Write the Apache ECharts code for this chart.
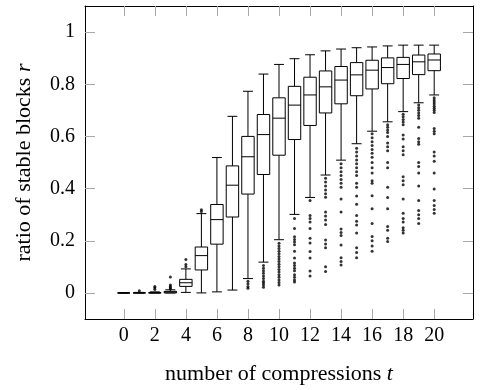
<!DOCTYPE html>
<html>
<head>
<meta charset="utf-8">
<script src="https://cdn.jsdelivr.net/npm/echarts@6/dist/echarts.min.js"></script>
<style>
html,body{margin:0;padding:0;background:#fff;}
#main{width:482px;height:390px;}
</style>
</head>
<body>
<div id="main"></div>
<script>
// number of compressions t
const tValues = [0,1,2,3,4,5,6,7,8,9,10,11,12,13,14,15,16,17,18,19,20];
// box plot statistics per t
const whiskerLow  = [0,0,0,0,0.002,0,0.004,0.011,0.055,0.118,0.204,0.301,0.366,0.452,0.509,0.572,0.620,0.656,0.695,0.729,0.759];
const quartile1   = [0,0,0,0,0.025,0.088,0.187,0.291,0.379,0.454,0.528,0.588,0.642,0.690,0.725,0.756,0.782,0.802,0.822,0.837,0.852];
const medians     = [0,0,0,0.003,0.039,0.143,0.281,0.413,0.522,0.607,0.670,0.720,0.759,0.790,0.816,0.836,0.854,0.864,0.876,0.886,0.893];
const quartile3   = [0,0,0.001,0.006,0.052,0.176,0.339,0.487,0.600,0.684,0.748,0.792,0.827,0.851,0.868,0.883,0.892,0.901,0.903,0.912,0.916];
const whiskerHigh = [0,0.002,0.004,0.012,0.092,0.304,0.519,0.677,0.773,0.839,0.876,0.898,0.913,0.928,0.935,0.940,0.943,0.947,0.950,0.950,0.950];
// outliers per t
const outliers = [
  [],
  [0.008],
  [0.013,0.02,0.025],
  [0.016,0.02,0.025,0.03,0.061],
  [0.1,0.109,0.128],
  [0.312,0.319],
  [],
  [],
  [0.045,0.035,0.025,0.018],
  [0.105,0.095,0.085,0.075,0.065,0.055,0.045,0.038,0.03,0.022],
  [0.19,0.18,0.17,0.16,0.15,0.14,0.13,0.12,0.11,0.1,0.09,0.08,0.07,0.06,0.05,0.04,0.03],
  [0.285,0.247,0.215,0.205,0.195,0.185,0.16,0.134,0.115,0.105,0.095,0.085,0.07,0.06,0.05,0.042],
  [0.354,0.297,0.285,0.272,0.247,0.21,0.191,0.159,0.134,0.084,0.065],
  [0.44,0.425,0.41,0.395,0.38,0.367,0.31,0.295,0.28,0.262,0.203,0.188,0.173,0.1,0.082],
  [0.495,0.48,0.465,0.45,0.435,0.42,0.405,0.36,0.31,0.245,0.232,0.22,0.184,0.135,0.12,0.107],
  [0.555,0.54,0.525,0.51,0.495,0.48,0.465,0.45,0.42,0.405,0.372,0.34,0.297,0.275,0.26,0.23,0.173,0.155,0.135],
  [0.61,0.595,0.58,0.565,0.55,0.535,0.52,0.5,0.48,0.46,0.43,0.42,0.373,0.323,0.266,0.216,0.2,0.18,0.16],
  [0.645,0.635,0.625,0.615,0.6,0.575,0.56,0.545,0.5,0.48,0.405,0.366,0.323,0.255,0.24,0.21,0.197],
  [0.685,0.675,0.665,0.655,0.645,0.605,0.59,0.56,0.545,0.53,0.445,0.43,0.415,0.36,0.305,0.285,0.272,0.25,0.24,0.23],
  [0.72,0.71,0.7,0.69,0.68,0.67,0.635,0.592,0.58,0.57,0.5,0.485,0.46,0.41,0.354,0.316,0.3,0.285,0.266],
  [0.748,0.74,0.732,0.724,0.716,0.708,0.7,0.692,0.63,0.62,0.61,0.54,0.525,0.505,0.46,0.398,0.354,0.335,0.32,0.305]
];
// tick labels
const xTicks = [0,2,4,6,8,10,12,14,16,18,20];
const yTicks = [0,0.2,0.4,0.6,0.8,1];

const boxData = tValues.map((t,i)=>[t, whiskerLow[i], quartile1[i], medians[i], quartile3[i], whiskerHigh[i]]);
const outlierData = [];
tValues.forEach((t,i)=>outliers[i].forEach(v=>outlierData.push([t,v])));

const FONT = 'Liberation Serif';
const tickColor = '#a8a8a8';
const labelSize = 20;
const nameSize = 22;

function xAxisCfg(pos, showLabel){
  return {
    type:'value', position:pos, min:-2.5, max:22.5,
    splitLine:{show:false},
    axisLine:{show:true, onZero:false, lineStyle:{color:'#000', width:1}},
    axisTick:{show:true, inside:true, length:10, customValues:xTicks, lineStyle:{color:tickColor, width:1}},
    axisLabel:{show:showLabel, customValues:xTicks, margin:7, fontFamily:FONT, fontSize:labelSize, color:'#000'},
  };
}
function yAxisCfg(pos, showLabel){
  return {
    type:'value', position:pos, min:-0.1, max:1.1,
    splitLine:{show:false},
    axisLine:{show:true, onZero:false, lineStyle:{color:'#000', width:1}},
    axisTick:{show:true, inside:true, length:10, customValues:yTicks, lineStyle:{color:tickColor, width:1}},
    axisLabel:{show:showLabel, customValues:yTicks, margin:10, fontFamily:FONT, fontSize:labelSize, color:'#000',
      formatter:v=>String(Math.round(v*10)/10)},
  };
}

const xb = xAxisCfg('bottom', true);
xb.name = 'number of compressions {i|t}';
xb.nameLocation = 'middle';
xb.nameGap = 44;
xb.nameTextStyle = {fontFamily:FONT, fontSize:nameSize, color:'#000', rich:{i:{fontFamily:FONT, fontSize:nameSize, fontStyle:'italic', color:'#000'}}};
const yl = yAxisCfg('left', true);
yl.name = 'ratio of stable blocks {i|r}';
yl.nameLocation = 'middle';
yl.nameGap = 50;
yl.nameTextStyle = {fontFamily:FONT, fontSize:nameSize, color:'#000', rich:{i:{fontFamily:FONT, fontSize:nameSize, fontStyle:'italic', color:'#000'}}};

const chart = echarts.init(document.getElementById('main'), null, {renderer:'canvas'});
chart.setOption({
  animation:false,
  backgroundColor:'#fff',
  grid:{left:85, right:9, top:6, bottom:65, containLabel:false},
  xAxis:[xb, xAxisCfg('top', false)],
  yAxis:[yl, yAxisCfg('right', false)],
  series:[
    {
      type:'custom',
      xAxisIndex:0, yAxisIndex:0,
      data:boxData,
      encode:{x:0, y:[1,2,3,4,5]},
      renderItem:function(params, api){
        const t = api.value(0);
        const pLo = api.coord([t, api.value(1)]);
        const pQ1 = api.coord([t, api.value(2)]);
        const pMed = api.coord([t, api.value(3)]);
        const pQ3 = api.coord([t, api.value(4)]);
        const pHi = api.coord([t, api.value(5)]);
        const bw = api.size([0.8, 0])[0];
        const ww = api.size([0.64, 0])[0];
        const x = pMed[0];
        const st = {stroke:'#000', lineWidth:1, fill:null};
        return {type:'group', children:[
          {type:'line', shape:{x1:x, y1:pQ1[1], x2:x, y2:pLo[1]}, style:st},
          {type:'line', shape:{x1:x, y1:pQ3[1], x2:x, y2:pHi[1]}, style:st},
          {type:'line', shape:{x1:x-ww/2, y1:pLo[1], x2:x+ww/2, y2:pLo[1]}, style:st},
          {type:'line', shape:{x1:x-ww/2, y1:pHi[1], x2:x+ww/2, y2:pHi[1]}, style:st},
          {type:'rect', shape:{x:x-bw/2, y:pQ3[1], width:bw, height:pQ1[1]-pQ3[1]}, style:{stroke:'#000', lineWidth:1, fill:'#fff'}},
          {type:'line', shape:{x1:x-bw/2, y1:pMed[1], x2:x+bw/2, y2:pMed[1]}, style:st}
        ]};
      },
      z:2
    },
    {
      type:'scatter',
      xAxisIndex:0, yAxisIndex:0,
      data:outlierData,
      symbol:'circle', symbolSize:3,
      itemStyle:{color:'#000'},
      z:3
    }
  ]
});
</script>
</body>
</html>
